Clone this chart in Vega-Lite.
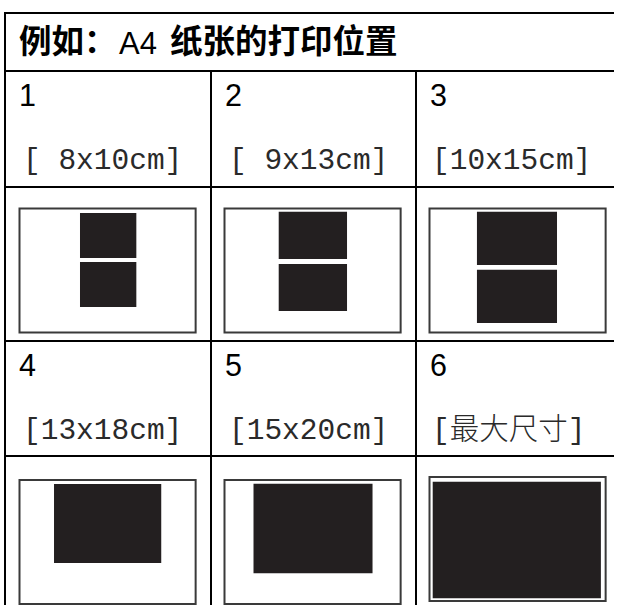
{
  "$schema": "https://vega.github.io/schema/vega-lite/v6.json",
  "padding": {"left": 5, "top": 13, "right": 0, "bottom": 0},
  "background": "white",
  "bounds": "flush",
  "spacing": 0,
  "columns": 3,
  "config": {
    "view": {"stroke": null},
    "axis": {"domain": true, "domainColor": "#000000", "domainWidth": 2, "domainCap": "square", "ticks": false, "labels": false, "grid": false, "translate": 0},
    "concat": {"spacing": 0}
  },
  "datasets": {
    "title": [{"head": "例如：", "paper": "A4", "tail": "纸张的打印位置"}],
    "cells": [
      {"cell": 1, "num": "1", "label": "[ 8x10cm]"},
      {"cell": 2, "num": "2", "label": "[ 9x13cm]"},
      {"cell": 3, "num": "3", "label": "[10x15cm]"},
      {"cell": 4, "num": "4", "label": "[13x18cm]"},
      {"cell": 5, "num": "5", "label": "[15x20cm]"},
      {"cell": 6, "num": "6", "label": "[最大尺寸]"}
    ],
    "prints": [
      {"cell": 1, "kind": "paper", "x0": 0, "x1": 29.7, "y0": 0, "y1": 21},
      {"cell": 1, "kind": "photo", "x0": 10.2, "x1": 19.7, "y0": 0.76, "y1": 8.39},
      {"cell": 1, "kind": "photo", "x0": 10.2, "x1": 19.7, "y0": 9.07, "y1": 16.69},
      {"cell": 2, "kind": "paper", "x0": 0, "x1": 29.7, "y0": 0, "y1": 21},
      {"cell": 2, "kind": "photo", "x0": 9.14, "x1": 20.66, "y0": 0.54, "y1": 8.56},
      {"cell": 2, "kind": "photo", "x0": 9.14, "x1": 20.66, "y0": 9.41, "y1": 17.37},
      {"cell": 3, "kind": "paper", "x0": 0, "x1": 29.7, "y0": 0, "y1": 21},
      {"cell": 3, "kind": "photo", "x0": 8.0, "x1": 21.5, "y0": 0.54, "y1": 9.58},
      {"cell": 3, "kind": "photo", "x0": 8.0, "x1": 21.5, "y0": 10.37, "y1": 19.4},
      {"cell": 4, "kind": "paper", "x0": 0, "x1": 29.7, "y0": 0, "y1": 21},
      {"cell": 4, "kind": "photo", "x0": 5.82, "x1": 23.9, "y0": 0.68, "y1": 14.07},
      {"cell": 5, "kind": "paper", "x0": 0, "x1": 29.7, "y0": 0, "y1": 21},
      {"cell": 5, "kind": "photo", "x0": 4.89, "x1": 24.96, "y0": 0.64, "y1": 15.8},
      {"cell": 6, "kind": "paper", "x0": 0, "x1": 29.7, "y0": 0, "y1": 21},
      {"cell": 6, "kind": "photo", "x0": 0.54, "x1": 28.9, "y0": 0.8, "y1": 20.56}
    ]
  },
  "concat": [
    {
      "width": 206, "height": 58,
      "data": {"name": "title"},
      "encoding": {
        "x": {"datum": 0, "type": "quantitative", "scale": {"domain": [0, 1]}, "axis": {"orient": "top"}, "title": null},
        "y": {"datum": 0, "type": "quantitative", "scale": {"domain": [0, 1], "reverse": true}, "title": null}
      },
      "layer": [
        {"mark": {"type": "text", "align": "left", "baseline": "alphabetic", "dx": 14, "dy": 40, "font": "Noto Sans CJK SC", "fontWeight": "bold", "fontSize": 32.5, "fill": "#000000"}, "encoding": {"text": {"field": "head"}}},
        {"mark": {"type": "text", "align": "left", "baseline": "alphabetic", "dx": 114, "dy": 40.5, "font": "Liberation Sans", "fontSize": 31, "fill": "#000000"}, "encoding": {"text": {"field": "paper"}}},
        {"mark": {"type": "text", "align": "left", "baseline": "alphabetic", "dx": 165, "dy": 40, "font": "Noto Sans CJK SC", "fontWeight": "bold", "fontSize": 32.5, "fill": "#000000"}, "encoding": {"text": {"field": "tail"}}}
      ]
    },
    {
      "width": 205, "height": 58,
      "data": {"name": "title"},
      "mark": {"type": "text", "text": ""},
      "encoding": {"x": {"datum": 0, "type": "quantitative", "scale": {"domain": [0, 1]}, "axis": {"orient": "top"}, "title": null}}
    },
    {
      "width": 198, "height": 58,
      "data": {"name": "title"},
      "mark": {"type": "text", "text": ""},
      "encoding": {"x": {"datum": 0, "type": "quantitative", "scale": {"domain": [0, 1]}, "axis": {"orient": "top"}, "title": null}}
    },
    {"width": 206, "height": 116, "data": {"name": "cells"}, "transform": [{"filter": "datum.cell == 1"}],
     "encoding": {"x": {"datum": 0, "type": "quantitative", "scale": {"domain": [0, 1]}, "axis": {"orient": "top"}, "title": null}, "y": {"datum": 0, "type": "quantitative", "scale": {"domain": [0, 1], "reverse": true}, "title": null}},
     "layer": [
       {"mark": {"type": "text", "align": "left", "baseline": "alphabetic", "dx": 14, "dy": 34.5, "font": "Liberation Sans", "fontSize": 30.5, "fill": "#000000"}, "encoding": {"text": {"field": "num"}}},
       {"mark": {"type": "text", "align": "left", "baseline": "alphabetic", "dx": 18, "dy": 98, "font": "Liberation Mono, Noto Sans CJK SC", "fontWeight": 300, "fontSize": 29.5, "fill": "#2a2a2a"}, "encoding": {"text": {"field": "label"}}}
     ]},
    {"width": 205, "height": 116, "data": {"name": "cells"}, "transform": [{"filter": "datum.cell == 2"}],
     "encoding": {"x": {"datum": 0, "type": "quantitative", "scale": {"domain": [0, 1]}, "axis": {"orient": "top"}, "title": null}, "y": {"datum": 0, "type": "quantitative", "scale": {"domain": [0, 1], "reverse": true}, "title": null}},
     "layer": [
       {"mark": {"type": "text", "align": "left", "baseline": "alphabetic", "dx": 14, "dy": 34.5, "font": "Liberation Sans", "fontSize": 30.5, "fill": "#000000"}, "encoding": {"text": {"field": "num"}}},
       {"mark": {"type": "text", "align": "left", "baseline": "alphabetic", "dx": 18, "dy": 98, "font": "Liberation Mono, Noto Sans CJK SC", "fontWeight": 300, "fontSize": 29.5, "fill": "#2a2a2a"}, "encoding": {"text": {"field": "label"}}}
     ]},
    {"width": 198, "height": 116, "data": {"name": "cells"}, "transform": [{"filter": "datum.cell == 3"}],
     "encoding": {"x": {"datum": 0, "type": "quantitative", "scale": {"domain": [0, 1]}, "axis": {"orient": "top"}, "title": null}, "y": {"datum": 0, "type": "quantitative", "scale": {"domain": [0, 1], "reverse": true}, "title": null}},
     "layer": [
       {"mark": {"type": "text", "align": "left", "baseline": "alphabetic", "dx": 14, "dy": 34.5, "font": "Liberation Sans", "fontSize": 30.5, "fill": "#000000"}, "encoding": {"text": {"field": "num"}}},
       {"mark": {"type": "text", "align": "left", "baseline": "alphabetic", "dx": 16, "dy": 98, "font": "Liberation Mono, Noto Sans CJK SC", "fontWeight": 300, "fontSize": 29.5, "fill": "#2a2a2a"}, "encoding": {"text": {"field": "label"}}}
     ]},
    {"width": 206, "height": 154, "data": {"name": "prints"}, "transform": [{"filter": "datum.cell == 1"}],
     "encoding": {
       "x": {"field": "x0", "type": "quantitative", "scale": {"domain": [-2.445, 32.29], "nice": false, "zero": false}, "axis": {"orient": "top"}, "title": null},
       "x2": {"field": "x1"},
       "y": {"field": "y0", "type": "quantitative", "scale": {"domain": [-3.644, 22.458], "nice": false, "zero": false, "reverse": true}, "title": null},
       "y2": {"field": "y1"}
     },
     "layer": [
       {"transform": [{"filter": "datum.kind == 'paper'"}], "mark": {"type": "rect", "fill": "#ffffff", "stroke": "#3a3a3a", "strokeWidth": 2}},
       {"transform": [{"filter": "datum.kind == 'photo'"}], "mark": {"type": "rect", "fill": "#231f20"}}
     ]},
    {"width": 205, "height": 154, "data": {"name": "prints"}, "transform": [{"filter": "datum.cell == 2"}],
     "encoding": {
       "x": {"field": "x0", "type": "quantitative", "scale": {"domain": [-2.277, 32.29], "nice": false, "zero": false}, "axis": {"orient": "top"}, "title": null},
       "x2": {"field": "x1"},
       "y": {"field": "y0", "type": "quantitative", "scale": {"domain": [-3.644, 22.458], "nice": false, "zero": false, "reverse": true}, "title": null},
       "y2": {"field": "y1"}
     },
     "layer": [
       {"transform": [{"filter": "datum.kind == 'paper'"}], "mark": {"type": "rect", "fill": "#ffffff", "stroke": "#3a3a3a", "strokeWidth": 2}},
       {"transform": [{"filter": "datum.kind == 'photo'"}], "mark": {"type": "rect", "fill": "#231f20"}}
     ]},
    {"width": 198, "height": 154, "data": {"name": "prints"}, "transform": [{"filter": "datum.cell == 3"}],
     "encoding": {
       "x": {"field": "x0", "type": "quantitative", "scale": {"domain": [-2.277, 31.11], "nice": false, "zero": false}, "axis": {"orient": "top"}, "title": null},
       "x2": {"field": "x1"},
       "y": {"field": "y0", "type": "quantitative", "scale": {"domain": [-3.644, 22.458], "nice": false, "zero": false, "reverse": true}, "title": null},
       "y2": {"field": "y1"}
     },
     "layer": [
       {"transform": [{"filter": "datum.kind == 'paper'"}], "mark": {"type": "rect", "fill": "#ffffff", "stroke": "#3a3a3a", "strokeWidth": 2}},
       {"transform": [{"filter": "datum.kind == 'photo'"}], "mark": {"type": "rect", "fill": "#231f20"}}
     ]},
    {"width": 206, "height": 115, "data": {"name": "cells"}, "transform": [{"filter": "datum.cell == 4"}],
     "encoding": {"x": {"datum": 0, "type": "quantitative", "scale": {"domain": [0, 1]}, "axis": {"orient": "top"}, "title": null}, "y": {"datum": 0, "type": "quantitative", "scale": {"domain": [0, 1], "reverse": true}, "title": null}},
     "layer": [
       {"mark": {"type": "text", "align": "left", "baseline": "alphabetic", "dx": 14, "dy": 34.5, "font": "Liberation Sans", "fontSize": 30.5, "fill": "#000000"}, "encoding": {"text": {"field": "num"}}},
       {"mark": {"type": "text", "align": "left", "baseline": "alphabetic", "dx": 18, "dy": 98, "font": "Liberation Mono, Noto Sans CJK SC", "fontWeight": 300, "fontSize": 29.5, "fill": "#2a2a2a"}, "encoding": {"text": {"field": "label"}}}
     ]},
    {"width": 205, "height": 115, "data": {"name": "cells"}, "transform": [{"filter": "datum.cell == 5"}],
     "encoding": {"x": {"datum": 0, "type": "quantitative", "scale": {"domain": [0, 1]}, "axis": {"orient": "top"}, "title": null}, "y": {"datum": 0, "type": "quantitative", "scale": {"domain": [0, 1], "reverse": true}, "title": null}},
     "layer": [
       {"mark": {"type": "text", "align": "left", "baseline": "alphabetic", "dx": 14, "dy": 34.5, "font": "Liberation Sans", "fontSize": 30.5, "fill": "#000000"}, "encoding": {"text": {"field": "num"}}},
       {"mark": {"type": "text", "align": "left", "baseline": "alphabetic", "dx": 18, "dy": 98, "font": "Liberation Mono, Noto Sans CJK SC", "fontWeight": 300, "fontSize": 29.5, "fill": "#2a2a2a"}, "encoding": {"text": {"field": "label"}}}
     ]},
    {"width": 198, "height": 115, "data": {"name": "cells"}, "transform": [{"filter": "datum.cell == 6"}],
     "encoding": {"x": {"datum": 0, "type": "quantitative", "scale": {"domain": [0, 1]}, "axis": {"orient": "top"}, "title": null}, "y": {"datum": 0, "type": "quantitative", "scale": {"domain": [0, 1], "reverse": true}, "title": null}},
     "layer": [
       {"mark": {"type": "text", "align": "left", "baseline": "alphabetic", "dx": 14, "dy": 34.5, "font": "Liberation Sans", "fontSize": 30.5, "fill": "#000000"}, "encoding": {"text": {"field": "num"}}},
       {"mark": {"type": "text", "align": "left", "baseline": "alphabetic", "dx": 16, "dy": 98, "font": "Liberation Mono, Noto Sans CJK SC", "fontWeight": 300, "fontSize": 29.5, "fill": "#2a2a2a"}, "encoding": {"text": {"field": "label"}}}
     ]},
    {"width": 206, "height": 148, "data": {"name": "prints"}, "transform": [{"filter": "datum.cell == 4"}],
     "encoding": {
       "x": {"field": "x0", "type": "quantitative", "scale": {"domain": [-2.445, 32.29], "nice": false, "zero": false}, "axis": {"orient": "top"}, "title": null},
       "x2": {"field": "x1"},
       "y": {"field": "y0", "type": "quantitative", "scale": {"domain": [-4.068, 21.017], "nice": false, "zero": false, "reverse": true}, "title": null},
       "y2": {"field": "y1"}
     },
     "layer": [
       {"transform": [{"filter": "datum.kind == 'paper'"}], "mark": {"type": "rect", "fill": "#ffffff", "stroke": "#3a3a3a", "strokeWidth": 2}},
       {"transform": [{"filter": "datum.kind == 'photo'"}], "mark": {"type": "rect", "fill": "#231f20"}}
     ]},
    {"width": 205, "height": 148, "data": {"name": "prints"}, "transform": [{"filter": "datum.cell == 5"}],
     "encoding": {
       "x": {"field": "x0", "type": "quantitative", "scale": {"domain": [-2.277, 32.29], "nice": false, "zero": false}, "axis": {"orient": "top"}, "title": null},
       "x2": {"field": "x1"},
       "y": {"field": "y0", "type": "quantitative", "scale": {"domain": [-4.068, 21.017], "nice": false, "zero": false, "reverse": true}, "title": null},
       "y2": {"field": "y1"}
     },
     "layer": [
       {"transform": [{"filter": "datum.kind == 'paper'"}], "mark": {"type": "rect", "fill": "#ffffff", "stroke": "#3a3a3a", "strokeWidth": 2}},
       {"transform": [{"filter": "datum.kind == 'photo'"}], "mark": {"type": "rect", "fill": "#231f20"}}
     ]},
    {"width": 198, "height": 148, "data": {"name": "prints"}, "transform": [{"filter": "datum.cell == 6"}],
     "encoding": {
       "x": {"field": "x0", "type": "quantitative", "scale": {"domain": [-2.277, 31.11], "nice": false, "zero": false}, "axis": {"orient": "top"}, "title": null},
       "x2": {"field": "x1"},
       "y": {"field": "y0", "type": "quantitative", "scale": {"domain": [-3.559, 21.525], "nice": false, "zero": false, "reverse": true}, "title": null},
       "y2": {"field": "y1"}
     },
     "layer": [
       {"transform": [{"filter": "datum.kind == 'paper'"}], "mark": {"type": "rect", "fill": "#ffffff", "stroke": "#3a3a3a", "strokeWidth": 2}},
       {"transform": [{"filter": "datum.kind == 'photo'"}], "mark": {"type": "rect", "fill": "#231f20"}}
     ]}
  ]
}
